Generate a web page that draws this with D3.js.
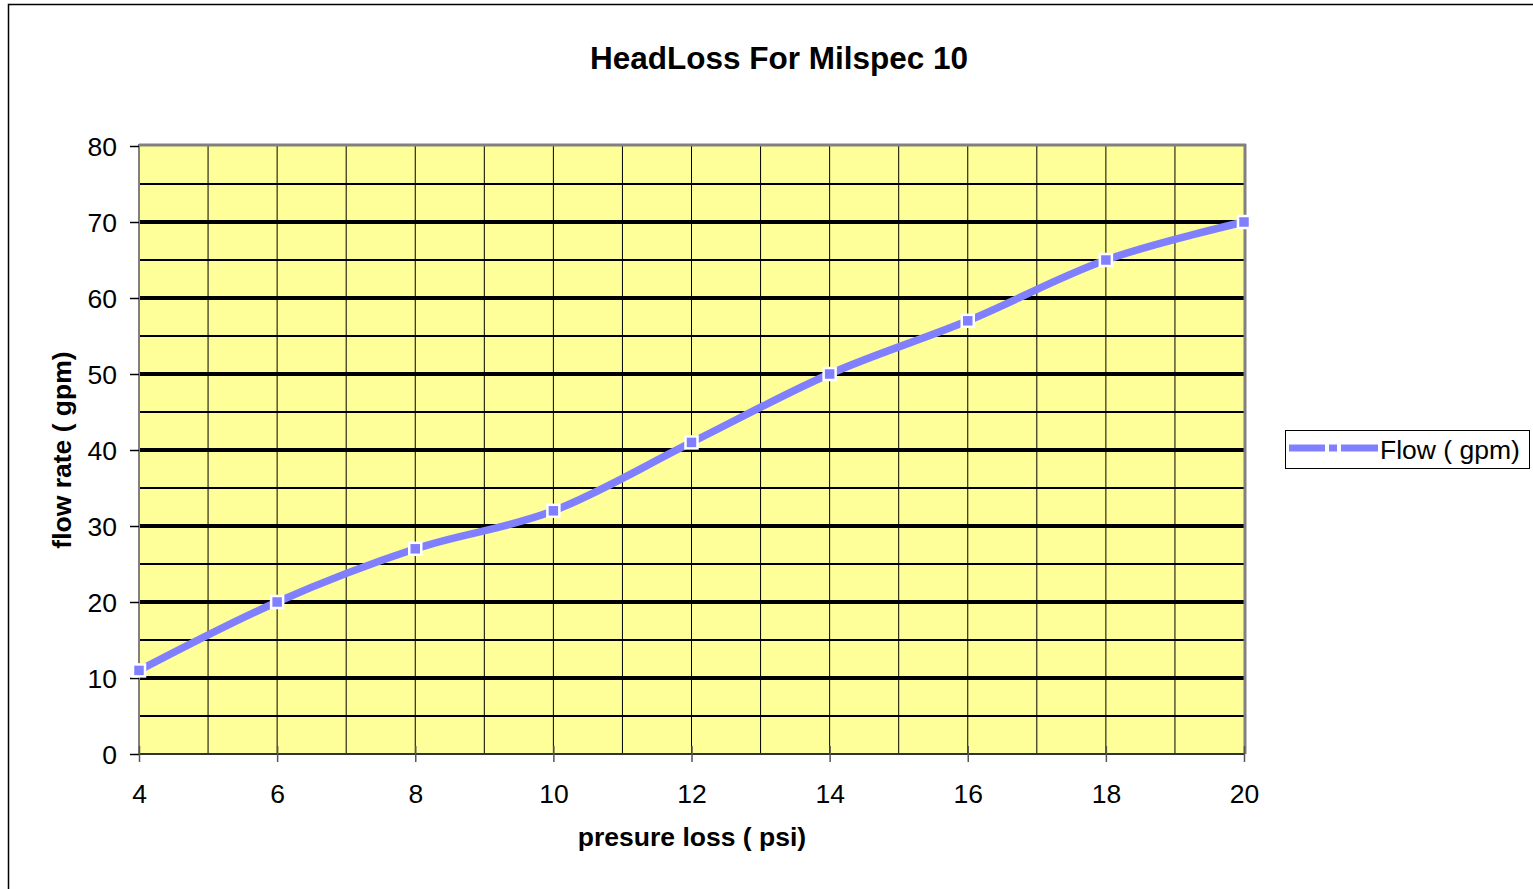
<!DOCTYPE html>
<html>
<head>
<meta charset="utf-8">
<script src="https://d3js.org/d3.v7.min.js"></script>
<style>
  body { margin: 0; background: #fff; overflow: hidden; }
  text { font-family: "Liberation Sans", Arial, sans-serif; fill: #000; }
</style>
</head>
<body>
<svg id="chart" width="1533" height="889"></svg>
<script>
// data
const pressure = [4, 6, 8, 10, 12, 14, 16, 18, 20]
const flow = [11, 20, 27, 32, 41, 50, 57, 65, 70]
const xTicks = [4, 6, 8, 10, 12, 14, 16, 18, 20]
const yTicks = [0, 10, 20, 30, 40, 50, 60, 70, 80]
const seriesName = 'Flow ( gpm)'

const svg = d3.select('#chart')

// outer chart frame (runs off the page on the right and bottom)
svg.append('rect').attr('x', 8.5).attr('y', 4.5).attr('width', 1560).attr('height', 920)
  .attr('fill', '#fff').attr('stroke', '#000').attr('stroke-width', 1.5)

const pLeft = 139, pRight = 1244, pTop = 146, pBottom = 754
const x = d3.scaleLinear().domain([4, 20]).range([pLeft, pRight])
const y = d3.scaleLinear().domain([0, 80]).range([pBottom, pTop])

// plot background
svg.append('rect').attr('x', pLeft).attr('y', pTop)
  .attr('width', pRight - pLeft).attr('height', pBottom - pTop)
  .attr('fill', '#FFFF99')

// vertical grid every unit
svg.append('g').selectAll('line')
  .data(d3.range(5, 20))
  .enter().append('line')
  .attr('x1', d => x(d)).attr('x2', d => x(d))
  .attr('y1', pTop).attr('y2', pBottom)
  .attr('stroke', '#000').attr('stroke-width', 1)

// horizontal grid: minor at 5s, major at 10s
svg.append('g').selectAll('line')
  .data(d3.range(5, 80, 5))
  .enter().append('line')
  .attr('x1', pLeft).attr('x2', pRight)
  .attr('y1', d => y(d)).attr('y2', d => y(d))
  .attr('stroke', '#000')
  .attr('stroke-width', d => d % 10 == 0 ? 4 : 2)

// gray frame top / right, dark left / bottom
svg.append('line').attr('x1', pLeft).attr('x2', pRight + 2).attr('y1', pTop - 1).attr('y2', pTop - 1)
  .attr('stroke', '#808080').attr('stroke-width', 3)
svg.append('line').attr('x1', pRight + 1).attr('x2', pRight + 1).attr('y1', pTop - 2).attr('y2', pBottom)
  .attr('stroke', '#808080').attr('stroke-width', 3)
svg.append('line').attr('x1', pLeft).attr('x2', pLeft).attr('y1', pTop - 2).attr('y2', pBottom)
  .attr('stroke', '#808080').attr('stroke-width', 2)
svg.append('line').attr('x1', pLeft).attr('x2', pRight).attr('y1', pBottom).attr('y2', pBottom)
  .attr('stroke', '#333').attr('stroke-width', 2)

// y axis
const yAxis = svg.append('g').attr('transform', `translate(${pLeft},0)`)
  .call(d3.axisLeft(y).tickValues(yTicks).tickSize(9).tickPadding(13))
yAxis.select('.domain').remove()
yAxis.selectAll('.tick line').attr('stroke', '#000').attr('stroke-width', 1.5)
yAxis.selectAll('text').style('font-size', '26.5px').attr('dy', '0.35em')

// x axis
const xAxis = svg.append('g').attr('transform', `translate(0,${pBottom})`)
  .call(d3.axisBottom(x).tickValues(xTicks).tickSize(8).tickPadding(22))
xAxis.select('.domain').remove()
xAxis.selectAll('.tick line').attr('y1', -8).attr('stroke', '#555').attr('stroke-width', 1.5)
xAxis.selectAll('text').style('font-size', '26.5px')

// series line
const pts = pressure.map((p, i) => [p, flow[i]])
const line = d3.line().x(d => x(d[0])).y(d => y(d[1])).curve(d3.curveCardinal.tension(0))
svg.append('path').datum(pts).attr('d', line)
  .attr('fill', 'none').attr('stroke', '#8080FF').attr('stroke-width', 7.5)

svg.append('g').selectAll('rect')
  .data(pts)
  .enter().append('rect')
  .attr('x', d => x(d[0]) - 6).attr('y', d => y(d[1]) - 6)
  .attr('width', 12).attr('height', 12)
  .attr('fill', '#8080FF').attr('stroke', '#fff').attr('stroke-width', 2.5)

// titles
svg.append('text').attr('x', 779).attr('y', 69).attr('text-anchor', 'middle')
  .style('font-size', '31.5px').style('font-weight', 'bold').text('HeadLoss For Milspec 10')
svg.append('text').attr('x', 692).attr('y', 846).attr('text-anchor', 'middle')
  .style('font-size', '26.5px').style('font-weight', 'bold').text('presure loss ( psi)')
svg.append('text').attr('transform', 'translate(71,450) rotate(-90)').attr('text-anchor', 'middle')
  .style('font-size', '26.5px').style('font-weight', 'bold').text('flow rate ( gpm)')

// legend
const lg = svg.append('g')
lg.append('rect').attr('x', 1285.5).attr('y', 430.5).attr('width', 244).attr('height', 38)
  .attr('fill', '#fff').attr('stroke', '#000').attr('stroke-width', 1)
lg.append('line').attr('x1', 1289).attr('x2', 1378).attr('y1', 448).attr('y2', 448)
  .attr('stroke', '#8080FF').attr('stroke-width', 7).attr('stroke-dasharray', '36 4 8 4 38')
lg.append('text').attr('x', 1380).attr('y', 459).style('font-size', '26.5px').text(seriesName)
</script>
</body>
</html>
